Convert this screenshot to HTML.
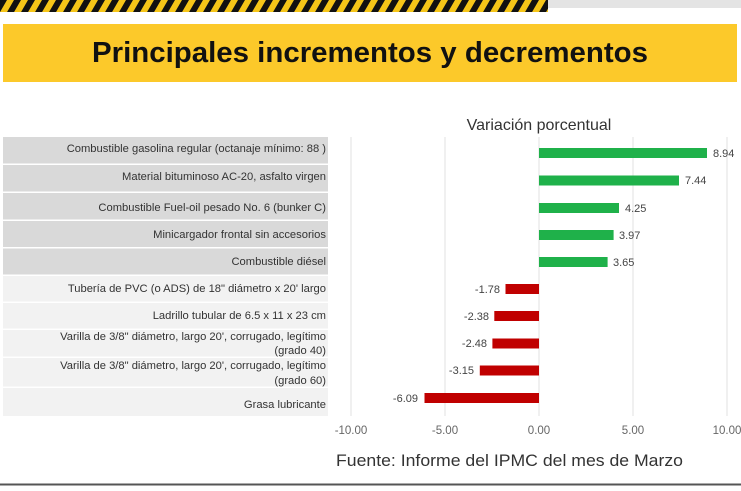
<!DOCTYPE html>
<html><head><meta charset="utf-8"><style>
body{margin:0;width:741px;height:486px;background:#fff;overflow:hidden;font-family:"Liberation Sans",sans-serif}
</style></head><body>
<svg width="741" height="486" xmlns="http://www.w3.org/2000/svg" font-family="Liberation Sans, sans-serif">
<defs><pattern id="st" width="14" height="12" patternUnits="userSpaceOnUse" patternTransform="skewX(-30)">
<rect width="14" height="12" fill="#f5c518"/><rect width="7" height="12" fill="#111"/></pattern></defs>
<rect x="548" y="0" width="193" height="8" fill="#e4e4e4"/>
<rect x="0" y="0" width="548" height="12" fill="url(#st)"/>
<rect x="3" y="24" width="734" height="58" fill="#fcc92a"/>
<text x="370" y="62" text-anchor="middle" font-size="29" font-weight="bold" fill="#111" textLength="556" lengthAdjust="spacingAndGlyphs">Principales incrementos y decrementos</text>
<text x="539" y="130" text-anchor="middle" font-size="16" fill="#333">Variación porcentual</text>
<g stroke="#e0e0e0" stroke-width="1">
<line x1="351" y1="137" x2="351" y2="416"/><line x1="445" y1="137" x2="445" y2="416"/>
<line x1="539" y1="137" x2="539" y2="416"/><line x1="633" y1="137" x2="633" y2="416"/>
<line x1="727" y1="137" x2="727" y2="416"/>
</g>
<g fill="#d9d9d9">
<rect x="3" y="137" width="325" height="26.5"/><rect x="3" y="165" width="325" height="26.5"/>
<rect x="3" y="193" width="325" height="26.5"/><rect x="3" y="221" width="325" height="26"/>
<rect x="3" y="248.5" width="325" height="26"/>
</g>
<g fill="#f2f2f2">
<rect x="3" y="276" width="325" height="25.5"/><rect x="3" y="303" width="325" height="25.5"/>
<rect x="3" y="330" width="325" height="26.5"/><rect x="3" y="358" width="325" height="28.5"/>
<rect x="3" y="388" width="325" height="28"/>
</g>
<g font-size="11.2" fill="#333" text-anchor="end">
<text x="326" y="152">Combustible gasolina regular (octanaje mínimo: 88 )</text>
<text x="326" y="180">Material bituminoso AC-20, asfalto virgen</text>
<text x="326" y="211">Combustible Fuel-oil pesado No. 6 (bunker C)</text>
<text x="326" y="238">Minicargador frontal sin accesorios</text>
<text x="326" y="265">Combustible diésel</text>
<text x="326" y="292">Tubería de PVC (o ADS) de 18" diámetro x 20' largo</text>
<text x="326" y="319">Ladrillo tubular de 6.5 x 11 x 23 cm</text>
<text x="326" y="340">Varilla de 3/8" diámetro, largo 20', corrugado, legítimo</text>
<text x="326" y="354">(grado 40)</text>
<text x="326" y="369">Varilla de 3/8" diámetro, largo 20', corrugado, legítimo</text>
<text x="326" y="384">(grado 60)</text>
<text x="326" y="408">Grasa lubricante</text>
</g>
<g fill="#1fb14a">
<rect x="539" y="148" width="168" height="10"/>
<rect x="539" y="175.5" width="140" height="10"/>
<rect x="539" y="203" width="80" height="10"/>
<rect x="539" y="230" width="74.6" height="10"/>
<rect x="539" y="257" width="68.6" height="10"/>
</g>
<g fill="#c00000">
<rect x="505.5" y="284" width="33.5" height="10"/>
<rect x="494.3" y="311" width="44.7" height="10"/>
<rect x="492.4" y="338.5" width="46.6" height="10"/>
<rect x="479.8" y="365.5" width="59.2" height="10"/>
<rect x="424.5" y="393" width="114.5" height="10"/>
</g>
<g font-size="11" fill="#444">
<text x="713" y="157">8.94</text><text x="685" y="184">7.44</text>
<text x="625" y="212">4.25</text><text x="619" y="239">3.97</text><text x="613" y="266">3.65</text>
<g text-anchor="end"><text x="500" y="293">-1.78</text><text x="489" y="320">-2.38</text>
<text x="487" y="347">-2.48</text><text x="474" y="374">-3.15</text><text x="418" y="402">-6.09</text></g>
</g>
<g font-size="11.5" fill="#666" text-anchor="middle">
<text x="351" y="434">-10.00</text><text x="445" y="434">-5.00</text><text x="539" y="434">0.00</text>
<text x="633" y="434">5.00</text><text x="727" y="434">10.00</text>
</g>
<text x="336" y="466" font-size="16.5" fill="#333" textLength="347" lengthAdjust="spacingAndGlyphs">Fuente: Informe del IPMC del mes de Marzo</text>
<line x1="0" y1="484.5" x2="741" y2="484.5" stroke="#555" stroke-width="2"/>
</svg>
</body></html>
